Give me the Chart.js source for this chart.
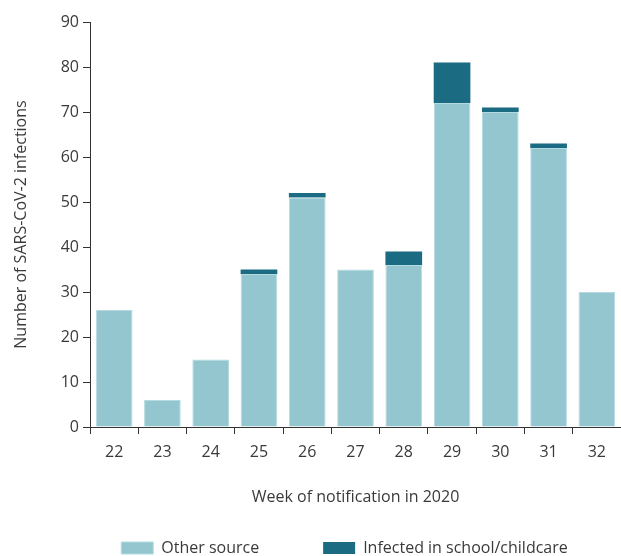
<!DOCTYPE html>
<html>
<head>
<meta charset="utf-8">
<script src="https://cdn.jsdelivr.net/npm/chart.js@4/dist/chart.umd.min.js"></script>
<style>
  html, body { margin: 0; padding: 0; background: #fff; }
  #wrap { width: 621px; height: 556px; position: relative; }
</style>
</head>
<body>
<div id="wrap"><canvas id="bar-chart"></canvas></div>
<script>
// weeks of notification (2020)
const weeks = ['22', '23', '24', '25', '26', '27', '28', '29', '30', '31', '32'];

// cases per week
const otherSource = [26, 6, 15, 34, 51, 35, 36, 72, 70, 62, 30];
const schoolChildcare = [0, 0, 0, 1, 1, 0, 3, 9, 1, 1, 0];

// y axis ticks
const yTicks = [0, 10, 20, 30, 40, 50, 60, 70, 80, 90];

const textColor = '#3a3a3a';
const axisColor = '#333333';
const fontFamily = "'Open Sans', 'DejaVu Sans', sans-serif";

// legend sits low and a bit right of centre in the original, with a wide gap between items.
// the legend clips to its own box, so only the top edge moves up (bottom stays at the canvas edge)
const legendNudge = {
    id: 'legendNudge',
    afterLayout: function (chart) {
        const lg = chart.legend;
        lg.top -= 40;
        lg.left += 28;
        lg.right += 28;
    }
};

const ctx = document.getElementById('bar-chart').getContext('2d');

new Chart(ctx, {
    type: 'bar',
    data: {
        labels: weeks,
        datasets: [
            {
                label: 'Other source',
                data: otherSource,
                backgroundColor: '#93c6cf',
                borderColor: '#b5dbe1',
                borderWidth: 1,
                barPercentage: 0.76,
                categoryPercentage: 1.0
            },
            {
                label: 'Infected in school/childcare',
                data: schoolChildcare,
                backgroundColor: '#1b6b82',
                borderWidth: 0,
                barPercentage: 0.76,
                categoryPercentage: 1.0
            }
        ]
    },
    plugins: [legendNudge],
    options: {
        responsive: true,
        maintainAspectRatio: false,
        animation: false,
        layout: {
            padding: { top: 22, right: 0, left: 12, bottom: 0 }
        },
        plugins: {
            tooltip: { enabled: false },
            legend: {
                position: 'bottom',
                maxHeight: 40,
                labels: {
                    boxWidth: 32,
                    boxHeight: 12,
                    padding: 64,
                    color: textColor,
                    font: { family: fontFamily, size: 16 }
                }
            }
        },
        scales: {
            x: {
                stacked: true,
                afterFit: function (axis) {
                    axis.height = 89;
                },
                border: { display: true, color: axisColor, width: 1 },
                grid: {
                    drawOnChartArea: false,
                    drawTicks: true,
                    tickLength: 7,
                    color: axisColor
                },
                ticks: {
                    color: textColor,
                    padding: 9,
                    font: { family: fontFamily, size: 16 }
                },
                title: {
                    display: true,
                    text: 'Week of notification in 2020',
                    color: textColor,
                    padding: { top: 18, bottom: 9 },
                    font: { family: fontFamily, size: 16 }
                }
            },
            y: {
                stacked: true,
                min: 0,
                max: 90,
                afterBuildTicks: function (axis) {
                    axis.ticks = yTicks.map(v => ({ value: v }));
                },
                afterFit: function (axis) {
                    axis.width = 78;
                },
                border: { display: true, color: axisColor, width: 1 },
                grid: {
                    drawOnChartArea: false,
                    drawTicks: true,
                    tickLength: 7,
                    color: axisColor
                },
                ticks: {
                    color: textColor,
                    padding: 4,
                    font: { family: fontFamily, size: 16 }
                },
                title: {
                    display: true,
                    text: 'Number of SARS-CoV-2 infections',
                    color: textColor,
                    padding: { top: 0, bottom: 6 },
                    font: { family: fontFamily, size: 16 }
                }
            }
        }
    }
});
</script>
</body>
</html>
